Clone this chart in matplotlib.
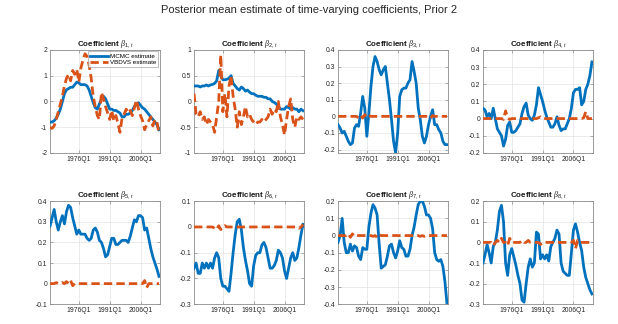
import numpy as np
import matplotlib
matplotlib.use("Agg")
import matplotlib.pyplot as plt
from matplotlib.ticker import FuncFormatter

plt.rcParams['font.family'] = ['Liberation Sans', 'DejaVu Sans']
plt.rcParams['mathtext.fontset'] = 'custom'
plt.rcParams['mathtext.it'] = 'Liberation Serif:italic'
plt.rcParams['mathtext.rm'] = 'Liberation Sans'
plt.rcParams['mathtext.bf'] = 'Liberation Sans:bold'

years = list(range(1962, 2016))
tick_labels = ["1976Q1", "1991Q1", "2006Q1"]
tick_years = [1976, 1991, 2006]

mcmc_b1 = [-0.8, -0.8, -0.75, -0.65, -0.5, -0.3, 0.0, 0.3, 0.45, 0.5, 0.55, 0.55, 0.65, 0.75, 0.72, 0.65, 0.65, 0.65,
           0.6, 0.45, 0.2, -0.05, -0.25, -0.3, -0.1, 0.1, 0.2, 0.1, -0.1, -0.3, -0.3, -0.35, -0.35, -0.4, -0.45, -0.6,
           -0.6, -0.5, -0.5, -0.45, -0.35, -0.2, -0.1, -0.05, -0.15, -0.25, -0.3, -0.4, -0.5, -0.6, -0.7, -0.8, -0.9, -1.1]
vb_b1 = [-1.0, -1.05, -0.95, -0.7, -0.4, -0.1, 0.2, 0.6, 0.9, 1.05, 0.8, 1.2, 1.05, 1.25, 0.75, 1.3, 1.6, 1.85,
         1.75, 1.4, 0.9, 0.2, -0.2, -0.55, -0.7, 0.35, 0.1, -0.2, -0.45, -0.7, -0.35, -0.75, -0.55, -0.85, -1.2, -0.65,
         -0.5, -0.3, -0.45, -0.35, -0.55, -0.25, 0.05, -0.3, -0.55, -0.75, -1.1, -0.9, -0.75, -0.6, -0.95, -0.7, -0.8, -1.25]

mcmc_b2 = [0.3, 0.3, 0.3, 0.28, 0.3, 0.3, 0.32, 0.3, 0.32, 0.33, 0.35, 0.4, 0.6, 0.5, 0.42, 0.42, 0.43, 0.45,
           0.5, 0.35, 0.3, 0.25, 0.22, 0.28, 0.25, 0.2, 0.22, 0.18, 0.15, 0.15, 0.12, 0.1, 0.1, 0.1, 0.08, 0.08,
           0.05, 0.05, 0.0, -0.02, -0.05, -0.1, -0.15, -0.15, -0.15, -0.1, -0.12, -0.15, -0.12, -0.15, -0.15, -0.2, -0.15, -0.18]
vb_b2 = [0.15, -0.25, -0.3, -0.2, -0.35, -0.3, -0.45, -0.35, -0.4, -0.45, -0.6, -0.3, 0.0, 0.9, -0.2, 0.15, -0.3, 0.3,
         0.5, 0.1, -0.15, -0.5, -0.2, -0.45, -0.3, -0.1, -0.3, -0.25, -0.35, -0.4, -0.45, -0.4, -0.4, -0.35, -0.4, -0.35,
         -0.3, -0.15, -0.25, -0.15, -0.2, 0.0, -0.3, -0.45, -0.65, -0.35, -0.1, 0.05, -0.35, -0.5, -0.3, -0.35, -0.3, -0.35]

mcmc_b3 = [-0.05, -0.07, -0.1, -0.09, -0.12, -0.15, -0.17, -0.16, -0.07, -0.05, -0.06, 0.02, 0.12, 0.05, -0.12, 0.02, 0.18, 0.3,
           0.36, 0.33, 0.28, 0.25, 0.28, 0.3, 0.2, 0.1, -0.02, -0.15, -0.22, -0.1, 0.12, 0.16, 0.17, 0.17, 0.2, 0.22,
           0.33, 0.27, 0.2, 0.05, -0.02, -0.12, -0.16, -0.12, -0.05, 0.0, 0.04, -0.05, -0.05, -0.08, -0.1, -0.15, -0.17, -0.17]
vb_b3 = [0.0, 0.0, 0.0, 0.0, 0.0, 0.0, 0.0, 0.0, 0.0, 0.0, -0.01, 0.005, -0.01, 0.01, -0.005, 0.005, 0.0, 0.0,
         0.0, 0.0, 0.0, 0.0, 0.0, 0.0, 0.0, 0.0, 0.0, 0.0, 0.0, 0.0, 0.0, 0.0, 0.0, 0.0, 0.0, 0.0,
         0.0, 0.0, 0.0, 0.0, 0.0, 0.0, 0.0, 0.0, 0.0, -0.01, 0.005, 0.0, 0.0, 0.0, 0.0, 0.0, 0.0, 0.0]

mcmc_b4 = [0.06, 0.05, 0.01, 0.03, 0.0, 0.06, 0.0, -0.06, -0.08, -0.1, -0.16, -0.12, -0.04, -0.02, -0.08, -0.08, -0.07, -0.05,
           -0.03, 0.03, 0.07, 0.09, 0.02, 0.0, -0.01, 0.02, 0.08, 0.18, 0.14, 0.1, 0.05, 0.01, -0.02, -0.05, -0.05, -0.03,
           0.01, -0.04, -0.07, -0.06, -0.06, -0.03, 0.0, 0.06, 0.15, 0.17, 0.17, 0.18, 0.08, 0.1, 0.17, 0.2, 0.25, 0.33]
vb_b4 = [0.0, 0.0, 0.0, 0.0, 0.0, 0.0, 0.0, 0.0, 0.0, 0.0, -0.005, 0.045, 0.005, -0.005, 0.0, 0.0, 0.0, 0.0,
         0.0, 0.0, 0.0, 0.0, 0.0, 0.0, 0.0, 0.0, 0.0, 0.005, 0.01, 0.0, 0.0, 0.0, 0.0, 0.0, 0.0, 0.0,
         0.0, 0.0, 0.0, 0.0, 0.0, 0.0, 0.0, 0.0, 0.0, 0.0, 0.0, 0.0, 0.0, 0.005, 0.04, 0.0, 0.0, 0.0]

mcmc_b5 = [0.28, 0.32, 0.36, 0.3, 0.26, 0.3, 0.33, 0.29, 0.35, 0.38, 0.37, 0.32, 0.28, 0.24, 0.26, 0.24, 0.24, 0.24,
           0.22, 0.21, 0.22, 0.26, 0.27, 0.25, 0.21, 0.2, 0.17, 0.13, 0.14, 0.18, 0.22, 0.22, 0.19, 0.19, 0.2, 0.21,
           0.21, 0.21, 0.2, 0.23, 0.27, 0.31, 0.3, 0.33, 0.33, 0.32, 0.26, 0.27, 0.22, 0.17, 0.13, 0.1, 0.07, 0.035]
vb_b5 = [0.0, 0.0, 0.0, 0.005, 0.0, 0.0, 0.005, 0.0, 0.01, 0.0, 0.015, -0.01, 0.0, 0.0, 0.0, 0.0, 0.0, 0.0,
         0.0, 0.0, 0.0, 0.0, 0.0, 0.0, 0.0, 0.0, 0.0, 0.0, 0.0, 0.0, 0.0, 0.0, 0.0, 0.0, 0.0, 0.0,
         0.0, 0.0, 0.0, 0.0, 0.0, 0.0, 0.0, 0.0, 0.0, 0.0, 0.015, -0.02, 0.0, 0.0, 0.0, 0.0, 0.0, 0.0]

mcmc_b6 = [-0.16, -0.14, -0.18, -0.18, -0.14, -0.16, -0.14, -0.16, -0.14, -0.16, -0.12, -0.1, -0.12, -0.2, -0.23, -0.23, -0.24, -0.25,
           -0.18, -0.1, -0.03, 0.02, 0.03, -0.01, -0.08, -0.13, -0.17, -0.22, -0.23, -0.15, -0.11, -0.1, -0.1, -0.07, -0.06, -0.08,
           -0.12, -0.16, -0.16, -0.15, -0.13, -0.09, -0.1, -0.12, -0.17, -0.2, -0.16, -0.12, -0.1, -0.13, -0.12, -0.08, -0.03, 0.01]
vb_b6 = [0.0, 0.0, 0.0, 0.0, 0.0, 0.0, 0.0, 0.0, 0.0, 0.0, -0.005, -0.01, 0.005, -0.01, 0.0, 0.005, 0.0, 0.0,
         0.0, 0.0, 0.0, 0.0, 0.0, 0.0, 0.0, 0.0, 0.0, 0.0, 0.0, 0.0, 0.0, 0.0, 0.0, 0.0, 0.0, 0.0,
         0.0, 0.0, 0.0, 0.0, 0.0, 0.0, 0.0, 0.0, 0.0, 0.0, 0.0, 0.0, 0.0, 0.0, 0.0, -0.005, 0.0, 0.01]

mcmc_b7 = [-0.04, 0.0, 0.1, -0.04, -0.1, -0.1, -0.05, -0.09, -0.06, -0.07, -0.12, -0.14, -0.07, -0.08, -0.08, 0.05, 0.13, 0.18,
           0.16, 0.12, -0.05, -0.19, -0.18, -0.17, -0.12, -0.06, -0.05, -0.1, -0.13, -0.09, -0.03, -0.07, -0.08, -0.12, -0.12, -0.08,
           0.0, 0.05, 0.12, 0.18, 0.2, 0.2, 0.17, 0.12, 0.12, 0.1, 0.04, -0.1, -0.14, -0.15, -0.14, -0.18, -0.27, -0.4]
vb_b7 = [0.0, 0.0, 0.0, 0.0, 0.0, 0.01, -0.01, 0.01, -0.005, 0.0, 0.0, 0.0, 0.0, 0.0, 0.0, 0.0, 0.0, -0.005,
         0.0, -0.01, 0.005, 0.0, 0.0, 0.0, 0.0, 0.0, 0.0, 0.0, 0.0, 0.0, 0.0, 0.0, 0.0, 0.0, 0.0, 0.0,
         0.0, 0.0, 0.0, 0.0, -0.005, 0.0, -0.005, 0.0, 0.0, 0.0, 0.0, 0.0, 0.0, 0.0, 0.0, 0.0, 0.0, 0.0]

mcmc_b8 = [-0.1, -0.06, -0.01, -0.05, -0.1, -0.02, 0.0, 0.06, 0.15, 0.18, 0.1, -0.1, -0.16, -0.06, -0.03, -0.07, -0.11, -0.16,
           -0.2, -0.28, -0.29, -0.2, -0.12, -0.08, -0.12, -0.1, 0.05, 0.04, -0.08, -0.06, -0.08, -0.06, -0.09, -0.02, 0.0, 0.02,
           0.06, 0.04, -0.1, -0.14, -0.15, -0.16, -0.16, -0.05, 0.06, 0.09, 0.05, 0.0, -0.04, -0.12, -0.17, -0.2, -0.23, -0.25]
vb_b8 = [0.0, 0.0, 0.0, 0.0, 0.0, -0.015, 0.0, 0.01, 0.0, 0.02, 0.0, 0.0, -0.015, 0.02, 0.0, 0.0, 0.0, 0.0,
         0.0, 0.01, 0.0, 0.0, 0.01, 0.0, 0.0, 0.0, 0.0, 0.0, -0.01, 0.0, 0.0, 0.0, 0.0, 0.0, 0.0, 0.0,
         0.0, 0.0, 0.0, 0.0, 0.0, 0.0, 0.0, 0.0, 0.01, -0.03, 0.01, 0.0, 0.0, 0.0, 0.0, 0.0, 0.0, 0.0]

mcmc = [mcmc_b1, mcmc_b2, mcmc_b3, mcmc_b4, mcmc_b5, mcmc_b6, mcmc_b7, mcmc_b8]
vbdvs = [vb_b1, vb_b2, vb_b3, vb_b4, vb_b5, vb_b6, vb_b7, vb_b8]
ylims = [(-2, 2), (-1, 1), (-0.22, 0.4), (-0.2, 0.4), (-0.1, 0.4), (-0.3, 0.1), (-0.4, 0.2), (-0.3, 0.2)]
ysteps = [1, 0.5, 0.1, 0.1, 0.1, 0.1, 0.1, 0.1]

BLUE = '#0072BD'
ORANGE = '#D95319'

fig = plt.figure(figsize=(6.18, 3.24), dpi=100)
lefts = [0.081, 0.314, 0.547, 0.7815]
bottoms = [0.528, 0.061]
w, h = 0.178, 0.318

xq = [(y - 1962) * 4 for y in years]
xt = [(y - 1962) * 4 for y in tick_years]

def fmt(v, pos):
    s = ('%.2f' % v).rstrip('0').rstrip('.')
    if s in ('-0', ''):
        s = '0'
    return s

for k in range(8):
    r, c = divmod(k, 4)
    ax = fig.add_axes([lefts[c], bottoms[r], w, h])
    l1, = ax.plot(xq, mcmc[k], color=BLUE, lw=2.0, zorder=3)
    l2, = ax.plot(xq, vbdvs[k], color=ORANGE, lw=2.0, ls=(0, (3.0, 1.5)), zorder=4)
    ax.set_xlim(0, 214)
    lo, hi = ylims[k]
    ax.set_ylim(lo, hi)
    st = ysteps[k]
    start = np.ceil(lo / st - 1e-9) * st
    ax.set_yticks(np.arange(start, hi + st / 2, st))
    ax.yaxis.set_major_formatter(FuncFormatter(fmt))
    ax.set_xticks(xt)
    ax.set_xticklabels(tick_labels)
    ax.grid(True, color='#e3e3e3', lw=0.5)
    ax.set_axisbelow(True)
    for sp in ax.spines.values():
        sp.set_color('#8c8c8c')
        sp.set_linewidth(0.6)
    ax.tick_params(direction='in', length=2, width=0.5, color='#8c8c8c', labelsize=4.9,
                   labelcolor='#262626', pad=2, top=True, right=True)
    ax.set_title(r'Coefficient $\beta_{%d,t}$' % (k + 1), fontsize=5.8, fontweight='bold', pad=3, color='#1a1a1a')
    if k == 0:
        leg = ax.legend([l1, l2], ['MCMC estimate', 'VBDVS estimate'], loc='upper right', fontsize=4.5,
                        frameon=True, fancybox=False, handlelength=2.8, borderpad=0.3, labelspacing=0.2,
                        handletextpad=0.4, borderaxespad=0.25)
        leg.get_frame().set_edgecolor('#8c8c8c')
        leg.get_frame().set_linewidth(0.5)

fig.suptitle('Posterior mean estimate of time-varying coefficients, Prior 2', fontsize=8.0, y=0.985, color='#262626')
fig.savefig('out.png', dpi=100)
